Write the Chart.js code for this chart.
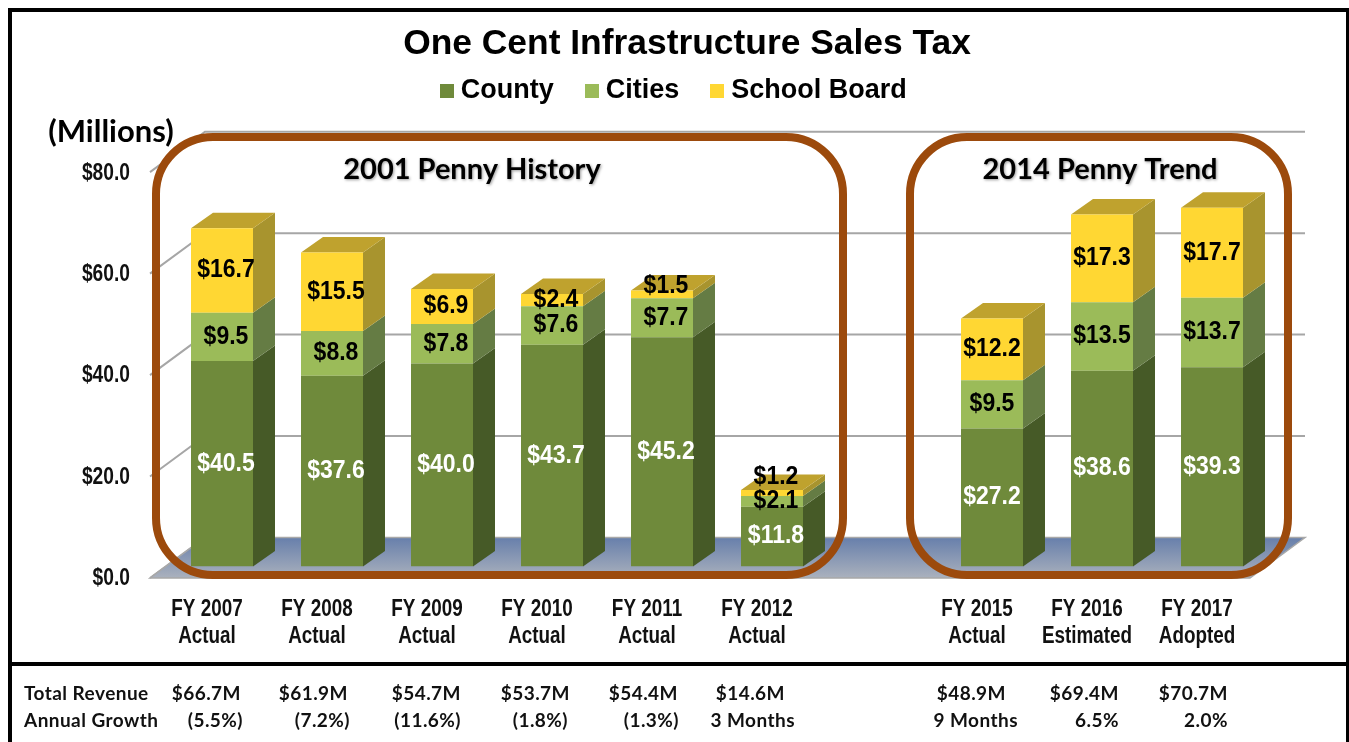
<!DOCTYPE html>
<html><head><meta charset="utf-8">
<style>html,body{margin:0;padding:0;background:#fff;overflow:hidden}canvas{display:block}</style>
<script src="https://cdn.jsdelivr.net/npm/chart.js@4"></script>
</head><body>
<div style="width:1349px;height:742px;position:relative"><canvas id="c" width="1349" height="742"></canvas></div>
<script>
const categories=[["FY 2007","Actual"],["FY 2008","Actual"],["FY 2009","Actual"],["FY 2010","Actual"],["FY 2011","Actual"],["FY 2012","Actual"],"",["FY 2015","Actual"],["FY 2016","Estimated"],["FY 2017","Adopted"]];
const county=[40.5,37.6,40.0,43.7,45.2,11.8,null,27.2,38.6,39.3];
const cities=[9.5,8.8,7.8,7.6,7.7,2.1,null,9.5,13.5,13.7];
const school=[16.7,15.5,6.9,2.4,1.5,1.2,null,12.2,17.3,17.7];
const totalRevenue=["$66.7M","$61.9M","$54.7M","$53.7M","$54.4M","$14.6M","","$48.9M","$69.4M","$70.7M"];
const annualGrowth=["(5.5%)","(7.2%)","(11.6%)","(1.8%)","(1.3%)","3 Months","","9 Months","6.5%","2.0%"];
const yTicks=[0,20,40,60,80];

// layout of the table under the chart (right edge of each column)
const revenueRight=[241,348,461,570,678,785,0,1006,1119,1228];
const growthRight=[243,350,461,568,679,795,0,1018,1119,1228];

const frontCol=["#6f8a3b","#9bbb59","#ffd733"];
const sideCol=["#465a27","#657c44","#a8942e"];
const topCol=["#5d7433","#7f9a4b","#bfa22e"];
const DX=22,DY=15.5,WX=55,WY=40.5,LABEL_DY=11.5,TICK_DY=12.5;

function marker(col){const m=document.createElement('canvas');m.width=14;m.height=14;const g=m.getContext('2d');g.fillStyle=col;g.fillRect(0,0,14,14);return m;}
const markers=frontCol.map(marker);

// draws the scale's own computed labels, condensed like the reference
function condense(s,k){
 s.drawLabels=function(){
  const c=s.ctx;
  s.getLabelItems().forEach(it=>{
   const o=it.options;
   c.save();
   c.font=it.font.string;c.fillStyle=o.color;c.textAlign=o.textAlign;c.textBaseline=o.textBaseline;
   c.translate(o.translation[0],o.translation[1]);c.scale(k,1);
   let yy=it.textOffset;
   [].concat(it.label).forEach(l=>{c.fillText(l,0,yy);yy+=it.font.lineHeight;});
   c.restore();
  });
 };
}

const scene={id:'scene',
 afterLayout(ch){
  const t=ch.titleBlock,l=ch.legend;
  const th=t.bottom-t.top;t.left=25;t.right=1349;t.top=23;t.bottom=23+th;
  const lh=l.bottom-l.top;l.top=40;l.bottom=40+lh;l.left=84;l.right=1269;
 },
 beforeDatasetsDraw(ch){
  const {ctx,scales:{x,y}}=ch;
  const left=x.left-17,right=x.right-17;
  const y0=y.getPixelForValue(0)+LABEL_DY;
  ctx.save();
  ctx.strokeStyle='#a6a6a6';ctx.lineWidth=2;
  yTicks.forEach(v=>{
   const p=y.getPixelForValue(v)+LABEL_DY;
   ctx.beginPath();ctx.moveTo(left,p);ctx.lineTo(left+WX,p-WY);
   if(v>0)ctx.lineTo(right+WX,p-WY);
   ctx.stroke();
  });
  const g=ctx.createLinearGradient(0,y0-WY,0,y0);
  g.addColorStop(0,'#677fab');g.addColorStop(1,'#aab1bd');
  ctx.fillStyle=g;ctx.beginPath();ctx.moveTo(left,y0);ctx.lineTo(left+WX,y0-WY);ctx.lineTo(right+WX,y0-WY);ctx.lineTo(right,y0);ctx.closePath();ctx.fill();
  ctx.strokeStyle='#a8a8a8';ctx.lineWidth=1.5;ctx.stroke();
  const n=categories.length;
  for(let i=0;i<n;i++){
   let topmost=-1;
   ch.data.datasets.forEach((d,di)=>{
    if(d.data[i]==null)return;
    const b=ch.getDatasetMeta(di).data[i];
    const r=b.x+b.width/2;
    ctx.fillStyle=sideCol[di];ctx.beginPath();
    ctx.moveTo(r,b.base);ctx.lineTo(r+DX,b.base-DY);ctx.lineTo(r+DX,b.y-DY);ctx.lineTo(r,b.y);ctx.closePath();ctx.fill();
    topmost=di;
   });
   if(topmost>=0){
    const b=ch.getDatasetMeta(topmost).data[i],l=b.x-b.width/2,r=b.x+b.width/2;
    ctx.fillStyle=topCol[topmost];ctx.beginPath();
    ctx.moveTo(l,b.y);ctx.lineTo(l+DX,b.y-DY);ctx.lineTo(r+DX,b.y-DY);ctx.lineTo(r,b.y);ctx.closePath();ctx.fill();
   }
  }
  ctx.restore();
 },
 afterDatasetsDraw(ch){
  const {ctx}=ch;
  ctx.save();
  ctx.textAlign='center';ctx.textBaseline='middle';
  ctx.font='bold 25px "Liberation Sans"';
  const nudgeY={"5,2":-16,"5,1":0,"4,2":-8};
  ch.data.datasets.forEach((d,di)=>{
   ch.getDatasetMeta(di).data.forEach((b,i)=>{
    if(d.data[i]==null)return;
    const cy=(b.y+b.base)/2+(nudgeY[i+","+di]||0);
    const cx=b.x+(i<6?4:0);
    ctx.save();ctx.translate(cx,cy);ctx.scale(.92,1);
    ctx.fillStyle=di===0?'#ffffff':'#000000';
    ctx.fillText('$'+d.data[i].toFixed(1),0,0);
    ctx.restore();
   });
  });
  ctx.strokeStyle='#9c4a0c';ctx.lineWidth=8;
  const fy=137,fb=575;
  [[156,843],[910,1288]].forEach(([a,b])=>{
   ctx.beginPath();ctx.roundRect(a,fy,b-a,fb-fy,57);ctx.stroke();
  });
  ctx.font='bold 29px Lato';ctx.fillStyle='#000';
  ctx.shadowColor='rgba(0,0,0,.4)';ctx.shadowBlur=3;ctx.shadowOffsetX=1;ctx.shadowOffsetY=1;
  ctx.fillText('2001 Penny History',472,170);
  ctx.fillText('2014 Penny Trend',1100,170);
  ctx.shadowColor='transparent';ctx.shadowBlur=0;ctx.shadowOffsetX=0;ctx.shadowOffsetY=0;
  ctx.font='bold 31px Lato';
  ctx.fillText('(Millions)',111,132);
  ctx.fillStyle='#000';
  ctx.fillRect(8,8,1341,4);ctx.fillRect(8,8,4,734);ctx.fillRect(1346,8,3,734);ctx.fillRect(8,662,1341,4);
  ctx.font='bold 19px Lato';ctx.letterSpacing='0.45px';ctx.fillStyle='#111';ctx.textAlign='left';
  ctx.fillText('Total Revenue',24,694);ctx.fillText('Annual Growth',24,721);
  ctx.textAlign='right';
  totalRevenue.forEach((s,i)=>{if(s)ctx.fillText(s,revenueRight[i],694);});
  annualGrowth.forEach((s,i)=>{if(s)ctx.fillText(s,growthRight[i],721);});
  ctx.restore();
 }
};

new Chart(document.getElementById('c'),{
 type:'bar',
 data:{labels:categories,datasets:[
  {label:'County',data:county,backgroundColor:frontCol[0]},
  {label:'Cities',data:cities,backgroundColor:frontCol[1]},
  {label:'School Board',data:school,backgroundColor:frontCol[2]}
 ]},
 plugins:[scene],
 options:{
  responsive:false,animation:false,
  layout:{padding:{left:12,right:82,top:43.7,bottom:0}},
  datasets:{bar:{barPercentage:62/110,categoryPercentage:1}},
  scales:{
   x:{stacked:true,grid:{display:false},border:{display:false},
    afterFit(s){s.height=742-566.5;condense(s,.82);},
    ticks:{color:'#111',font:{family:'"Liberation Sans"',size:23,weight:'bold',lineHeight:1.174},labelOffset:-15,padding:22,maxRotation:0,autoSkip:false}},
   y:{stacked:true,min:0,max:80,grid:{display:false},border:{display:false},
    afterFit(s){s.width=155;condense(s,.835);},
    afterBuildTicks(s){s.ticks=yTicks.map(v=>({value:v}));},
    ticks:{color:'#111',font:{family:'"Liberation Sans"',size:23,weight:'bold'},labelOffset:TICK_DY,padding:29,callback:v=>'$'+v.toFixed(1)}}
  },
  plugins:{
   tooltip:{enabled:false},
   title:{display:true,text:'One Cent Infrastructure Sales Tax',color:'#000',font:{family:'"Liberation Sans"',size:35.4,weight:'bold',lineHeight:1.2},padding:0},
   legend:{position:'top',labels:{color:'#000',font:{family:'"Liberation Sans"',size:27,weight:'bold'},usePointStyle:true,pointStyleWidth:1,padding:37.5,
    generateLabels(ch){return Chart.defaults.plugins.legend.labels.generateLabels(ch).map((it,i)=>({...it,pointStyle:markers[i]}));}}}
  }
 }
});
</script></body></html>
